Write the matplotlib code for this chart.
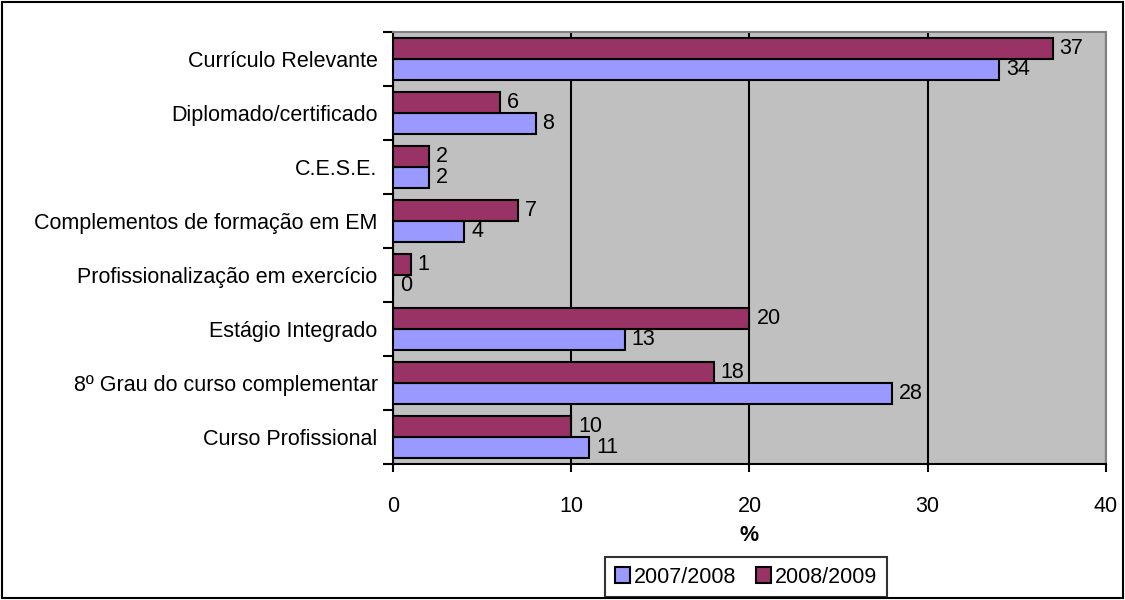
import numpy as np
import matplotlib.pyplot as plt
from matplotlib.patches import Rectangle

plt.rcParams["font.family"] = ["Liberation Sans", "DejaVu Sans"]

# categories listed bottom to top
categories = [
    "Curso Profissional",
    "8º Grau do curso complementar",
    "Estágio Integrado",
    "Profissionalização em exercício",
    "Complementos de formação em EM",
    "C.E.S.E.",
    "Diplomado/certificado",
    "Currículo Relevante",
]
v_2007 = [11, 28, 13, 0, 4, 2, 8, 34]
v_2008 = [10, 18, 20, 1, 7, 2, 6, 37]
series_names = ["2007/2008", "2008/2009"]
colors = ["#9999FF", "#993366"]

FS = 15.5

fig = plt.figure(figsize=(11.25, 6), dpi=100)
ax = fig.add_axes([0.3493, 0.2267, 0.6338, 0.72])
ax.set_facecolor("#C0C0C0")

y = np.arange(len(categories))
h = 0.38
b1 = ax.barh(y - h / 2, v_2007, height=h, color=colors[0], edgecolor="black",
             linewidth=1.5, label=series_names[0], zorder=3)
b2 = ax.barh(y + h / 2, v_2008, height=h, color=colors[1], edgecolor="black",
             linewidth=1.5, label=series_names[1], zorder=3)

for bars, vals in ((b1, v_2007), (b2, v_2008)):
    for bar, v in zip(bars, vals):
        ax.annotate(f"{v}", (v, bar.get_y() + bar.get_height() / 2),
                    xytext=(5, 0), textcoords="offset points",
                    va="center", ha="left", fontsize=FS, zorder=4)

ax.set_xlim(0, 40)
ax.set_ylim(-0.5, len(categories) - 0.5)
ax.set_xticks([0, 10, 20, 30, 40])
ax.grid(axis="x", color="black", linewidth=1.5, zorder=1)
ax.set_xlabel("%", fontsize=FS, fontweight="bold", labelpad=6)

# labels at category centres, ticks at category boundaries
ax.set_yticks(y)
ax.set_yticklabels(categories, fontsize=FS)
ax.set_yticks(np.arange(-0.5, len(categories), 1), minor=True)
ax.tick_params(axis="y", which="major", length=0, pad=11)
ax.tick_params(axis="y", which="minor", length=7, width=1.5, direction="out")
ax.tick_params(axis="x", length=6, width=1.5, direction="out", labelsize=FS, pad=17)

for side in ("top", "right"):
    ax.spines[side].set_color("#808080")
    ax.spines[side].set_linewidth(1.5)
for side in ("left", "bottom"):
    ax.spines[side].set_color("black")
    ax.spines[side].set_linewidth(1.5)

leg = fig.legend(handles=[b1, b2], loc="center", bbox_to_anchor=(0.6631, 0.0383),
                 ncol=2, fontsize=FS, frameon=True, fancybox=False,
                 handlelength=0.7, handleheight=0.7, handletextpad=0.2,
                 columnspacing=0.9, borderpad=0.45, borderaxespad=0.0)
leg.get_frame().set_edgecolor("black")
leg.get_frame().set_linewidth(1.5)

# outer border of the figure
fig.patches.append(Rectangle((0.002, 0.003), 0.996, 0.994, transform=fig.transFigure,
                             fill=False, edgecolor="black", linewidth=1.5))

fig.savefig("out.png", dpi=100)
